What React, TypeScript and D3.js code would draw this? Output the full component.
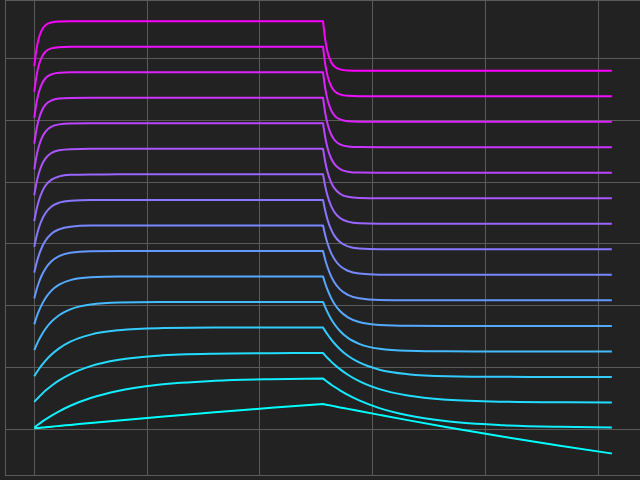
import { useEffect, useRef } from "react";
import * as d3 from "d3";

// sample times: rise from 0, step off at 2.56, decay until 5.12
const stepTimes = [
  0, 0.02, 0.04, 0.07, 0.1, 0.15, 0.22, 0.32, 0.5, 0.75, 1.1, 1.6, 2.1, 2.56,
  2.58, 2.6, 2.63, 2.66, 2.71, 2.78, 2.88, 3.06, 3.31, 3.66, 4.16, 4.66, 5.12,
];
const stepIndex = 13; // sample where the input switches off

// vertical offset of each trace (bottom trace first)
const curveOffsets = [
  -0.392, 0.021, 0.434, 0.847, 1.26, 1.673, 2.086, 2.499, 2.912, 3.325, 3.738,
  4.151, 4.564, 4.977, 5.39, 5.803,
];

// response of each trace above its offset
const curveResponses: number[][] = [
  [0.407, 0.411, 0.414, 0.419, 0.425, 0.434, 0.446, 0.463, 0.494, 0.535, 0.591, 0.667, 0.739, 0.8,
   0.793, 0.786, 0.775, 0.764, 0.746, 0.722, 0.687, 0.625, 0.54, 0.426, 0.27, 0.124, 0.0],
  [0.006, 0.034, 0.062, 0.102, 0.139, 0.197, 0.27, 0.36, 0.485, 0.603, 0.699, 0.764, 0.79, 0.8,
   0.771, 0.744, 0.704, 0.667, 0.609, 0.536, 0.447, 0.322, 0.205, 0.108, 0.044, 0.018, 0.008],
  [0.008, 0.049, 0.087, 0.142, 0.192, 0.267, 0.356, 0.459, 0.588, 0.69, 0.756, 0.788, 0.797, 0.8,
   0.759, 0.72, 0.665, 0.615, 0.539, 0.448, 0.345, 0.215, 0.111, 0.044, 0.012, 0.003, 0.001],
  [0.012, 0.071, 0.125, 0.198, 0.264, 0.358, 0.462, 0.57, 0.685, 0.756, 0.789, 0.798, 0.8, 0.8,
   0.741, 0.686, 0.611, 0.545, 0.449, 0.343, 0.234, 0.117, 0.045, 0.012, 0.002, 0, 0],
  [0.019, 0.105, 0.182, 0.282, 0.366, 0.477, 0.586, 0.681, 0.759, 0.791, 0.799, 0.8, 0.8, 0.8,
   0.711, 0.632, 0.53, 0.444, 0.331, 0.219, 0.122, 0.042, 0.01, 0.001, 0, 0, 0],
  [0.025, 0.14, 0.237, 0.357, 0.452, 0.567, 0.667, 0.74, 0.786, 0.798, 0.8, 0.8, 0.8, 0.8,
   0.682, 0.581, 0.457, 0.359, 0.241, 0.138, 0.062, 0.015, 0.002, 0, 0, 0, 0],
  [0.031, 0.171, 0.285, 0.418, 0.517, 0.628, 0.715, 0.769, 0.795, 0.8, 0.8, 0.8, 0.8, 0.8,
   0.655, 0.536, 0.397, 0.294, 0.178, 0.089, 0.033, 0.005, 0, 0, 0, 0, 0],
  [0.036, 0.191, 0.315, 0.455, 0.555, 0.661, 0.737, 0.78, 0.797, 0.8, 0.8, 0.8, 0.8, 0.8,
   0.637, 0.508, 0.361, 0.257, 0.145, 0.066, 0.021, 0.003, 0, 0, 0, 0, 0],
  [0.04, 0.212, 0.345, 0.49, 0.589, 0.689, 0.755, 0.787, 0.799, 0.8, 0.8, 0.8, 0.8, 0.8,
   0.619, 0.479, 0.326, 0.222, 0.117, 0.048, 0.013, 0.001, 0, 0, 0, 0, 0],
  [0.044, 0.232, 0.374, 0.522, 0.619, 0.711, 0.767, 0.792, 0.799, 0.8, 0.8, 0.8, 0.8, 0.8,
   0.601, 0.452, 0.294, 0.192, 0.094, 0.035, 0.008, 0.001, 0, 0, 0, 0, 0],
  [0.049, 0.254, 0.402, 0.553, 0.647, 0.731, 0.777, 0.795, 0.8, 0.8, 0.8, 0.8, 0.8, 0.8,
   0.583, 0.424, 0.263, 0.164, 0.074, 0.024, 0.005, 0, 0, 0, 0, 0, 0],
  [0.054, 0.271, 0.426, 0.577, 0.667, 0.744, 0.783, 0.797, 0.8, 0.8, 0.8, 0.8, 0.8, 0.8,
   0.567, 0.401, 0.239, 0.143, 0.06, 0.018, 0.003, 0, 0, 0, 0, 0, 0],
  [0.058, 0.291, 0.451, 0.602, 0.688, 0.756, 0.788, 0.798, 0.8, 0.8, 0.8, 0.8, 0.8, 0.8,
   0.549, 0.376, 0.214, 0.121, 0.047, 0.013, 0.002, 0, 0, 0, 0, 0, 0],
  [0.063, 0.31, 0.474, 0.623, 0.704, 0.765, 0.792, 0.799, 0.8, 0.8, 0.8, 0.8, 0.8, 0.8,
   0.532, 0.354, 0.192, 0.104, 0.037, 0.009, 0.001, 0, 0, 0, 0, 0, 0],
  [0.068, 0.33, 0.499, 0.645, 0.721, 0.774, 0.794, 0.799, 0.8, 0.8, 0.8, 0.8, 0.8, 0.8,
   0.513, 0.329, 0.169, 0.087, 0.029, 0.006, 0.001, 0, 0, 0, 0, 0, 0],
  [0.074, 0.354, 0.526, 0.668, 0.737, 0.781, 0.797, 0.8, 0.8, 0.8, 0.8, 0.8, 0.8, 0.8,
   0.491, 0.301, 0.145, 0.07, 0.021, 0.004, 0, 0, 0, 0, 0, 0, 0],
];

const xGridTicks = [0, 1, 2, 3, 4, 5];
const yGridTicks = [0, 1, 2, 3, 4, 5, 6];

export default function App() {
  const svgRef = useRef<SVGSVGElement | null>(null);

  useEffect(() => {
    if (!svgRef.current) return;

    const width = 640;
    const height = 480;
    const left = 5.4;
    const right = 640.7;
    const top = -0.2;
    const bottom = 475;

    const svg = d3.select(svgRef.current);
    svg.selectAll("*").remove();
    svg.attr("width", width).attr("height", height);

    svg
      .append("rect")
      .attr("width", width)
      .attr("height", height)
      .attr("fill", "#222222");

    const x = d3.scaleLinear().domain([-0.256, 5.376]).range([left, right]);
    const y = d3.scaleLinear().domain([-0.74, 6.95]).range([bottom, top]);

    const snap = (v: number) => Math.floor(v) + 0.5;
    const gridColor = "#5a5a5a";

    // grid
    const grid = svg.append("g").attr("stroke", gridColor).attr("stroke-width", 1);
    xGridTicks.forEach((t) => {
      grid
        .append("line")
        .attr("x1", snap(x(t)))
        .attr("x2", snap(x(t)))
        .attr("y1", 0)
        .attr("y2", snap(bottom));
    });
    yGridTicks.forEach((v) => {
      grid
        .append("line")
        .attr("x1", snap(left))
        .attr("x2", width)
        .attr("y1", snap(y(v)))
        .attr("y2", snap(y(v)));
    });

    // spines
    svg
      .append("path")
      .attr("d", `M${width},0.5H${snap(left)}V${snap(bottom)}H${width}`)
      .attr("fill", "none")
      .attr("stroke", gridColor)
      .attr("stroke-width", 1.1);

    const color = d3.interpolateRgb("#00ffff", "#ff00ff");

    curveResponses.forEach((resp, k) => {
      const pts: [number, number][] = resp.map((d, i) => [
        x(stepTimes[i]),
        y(curveOffsets[k] + d),
      ]);
      // rise and decay drawn as two smooth pieces so the corner at the step stays sharp
      const line = d3.line().curve(d3.curveMonotoneX);
      const d =
        line(pts.slice(0, stepIndex + 1))! +
        line(pts.slice(stepIndex))!.replace(/^M[^CL]*/, "");

      svg
        .append("path")
        .attr("fill", "none")
        .attr("stroke", color(k / (curveResponses.length - 1)))
        .attr("stroke-width", 2)
        .attr("stroke-linejoin", "round")
        .attr("d", d);
    });
  }, []);

  return (
    <svg
      ref={svgRef}
      style={{ position: "fixed", left: 0, top: 0, display: "block" }}
    />
  );
}
